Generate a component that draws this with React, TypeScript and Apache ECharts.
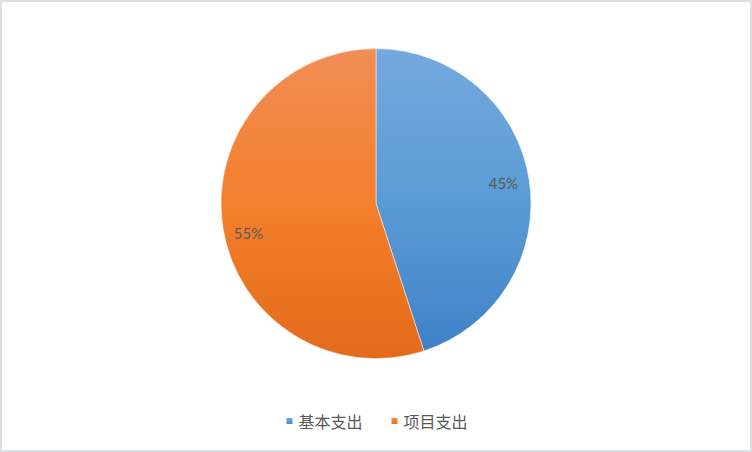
import React, { useEffect, useRef } from 'react';
import * as echarts from 'echarts';

// 分类与占比
const CATEGORIES = ['基本支出', '项目支出'];
const VALUES = [45, 55];
// 渐变色（上浅、中正、下深）
const TOP_COLORS = ['#74a9de', '#f18d57'];
const MID_COLORS = ['#5b9bd5', '#f47f2c'];
const BOTTOM_COLORS = ['#3f81c7', '#e36a1a'];
const LEGEND_COLORS = ['#5b9bd5', '#ed7d31'];

const App: React.FC = () => {
  const chartRef = useRef<HTMLDivElement>(null);

  useEffect(() => {
    document.body.style.margin = '0';
    if (!chartRef.current) return;
    const chart = echarts.init(chartRef.current, undefined, { renderer: 'svg' });

    const pieData = CATEGORIES.map((name, i) => ({
      name,
      value: VALUES[i],
      itemStyle: {
        color: new echarts.graphic.LinearGradient(0, 0, 0, 1, [
          { offset: 0, color: TOP_COLORS[i] },
          { offset: 0.5, color: MID_COLORS[i] },
          { offset: 1, color: BOTTOM_COLORS[i] },
        ]),
      },
    }));

    chart.setOption({
      animation: false,
      backgroundColor: '#ffffff',
      color: LEGEND_COLORS,
      legend: {
        data: CATEGORIES,
        bottom: 16,
        left: 'center',
        icon: 'rect',
        itemWidth: 8,
        itemHeight: 8,
        itemGap: 27,
        textStyle: { color: '#595959', fontSize: 16, fontFamily: 'Noto Sans CJK SC' },
      },
      series: [
        {
          name: '支出',
          type: 'pie',
          center: ['50%', '45%'],
          radius: [0, 155],
          startAngle: 90,
          clockwise: true,
          silent: true,
          label: { show: false },
          labelLine: { show: false },
          itemStyle: { borderColor: '#ffffff', borderWidth: 0.5 },
          data: pieData,
        },
        {
          // 透明环，仅用于放置百分比标签
          name: '标签',
          type: 'pie',
          center: ['50%', '45%'],
          radius: [97, 155],
          startAngle: 90,
          clockwise: true,
          silent: true,
          legendHoverLink: false,
          itemStyle: { color: 'transparent' },
          label: {
            show: true,
            position: 'inside',
            formatter: '{d}%',
            color: '#595959',
            fontSize: 15,
            fontFamily: 'Lato',
          },
          labelLine: { show: false },
          data: CATEGORIES.map((name, i) => ({
            name: name + '_label',
            value: VALUES[i],
            label: i === 1 ? { offset: [0, 9] } : {},
          })),
        },
      ],
    });

    return () => {
      chart.dispose();
    };
  }, []);

  return (
    <div
      style={{
        width: 752,
        height: 452,
        border: '2px solid #dde1e6',
        boxSizing: 'border-box',
      }}
    >
      <div ref={chartRef} style={{ width: '100%', height: '100%' }} />
    </div>
  );
};

export default App;
